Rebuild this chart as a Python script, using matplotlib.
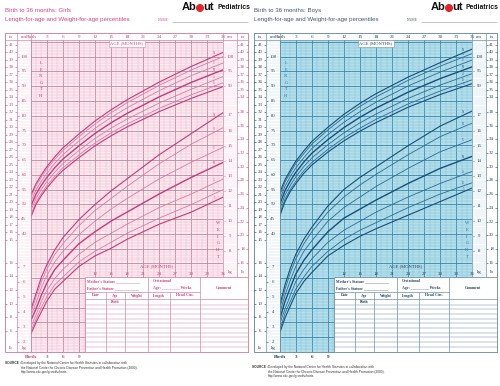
import numpy as np
import matplotlib
matplotlib.use('Agg')
import matplotlib.pyplot as plt
from matplotlib.transforms import blended_transform_factory as blend
from matplotlib.patches import Rectangle, Circle

W, H = 500, 386
SERIF = 'Liberation Serif'
SANS = 'Liberation Sans'

ages = [0, 1, 2, 3, 4.5, 6, 9, 12, 15, 18, 24, 30, 36]
pcts = ['95', '90', '75', '50', '25', '10', '5']

# length-for-age (cm), rows = percentiles 95 ... 5
girls_length = [
    [53.0, 57.0, 60.0, 62.7, 66.1, 69.1, 73.8, 78.2, 82.0, 85.4, 91.4, 96.7, 101.5],
    [52.2, 56.2, 59.3, 61.9, 65.3, 68.2, 72.9, 77.2, 81.0, 84.4, 90.3, 95.5, 100.1],
    [50.8, 54.9, 57.9, 60.5, 63.9, 66.8, 71.4, 75.7, 79.4, 82.7, 88.5, 93.6, 97.9],
    [49.3, 53.5, 56.5, 59.1, 62.4, 65.3, 69.8, 74.0, 77.6, 80.8, 86.4, 91.3, 95.6],
    [47.8, 52.1, 55.1, 57.7, 60.9, 63.8, 68.2, 72.3, 75.8, 78.9, 84.3, 89.0, 93.3],
    [46.4, 50.8, 53.7, 56.3, 59.5, 62.4, 66.7, 70.8, 74.2, 77.2, 82.5, 87.1, 91.2],
    [45.6, 50.0, 53.0, 55.5, 58.7, 61.5, 65.8, 69.8, 73.2, 76.2, 81.4, 85.9, 89.9],
]
boys_length = [
    [53.9, 58.4, 61.6, 64.6, 68.1, 71.3, 76.1, 80.5, 84.2, 87.5, 93.1, 98.0, 102.6],
    [53.0, 57.6, 60.8, 63.8, 67.2, 70.4, 75.2, 79.5, 83.2, 86.4, 92.0, 96.8, 101.1],
    [51.5, 56.2, 59.5, 62.3, 65.8, 68.9, 73.6, 77.8, 81.4, 84.6, 90.1, 94.8, 98.9],
    [49.9, 54.7, 58.0, 60.8, 64.3, 67.3, 71.9, 76.0, 79.5, 82.6, 88.0, 92.6, 96.6],
    [48.3, 53.2, 56.5, 59.3, 62.8, 65.7, 70.2, 74.2, 77.6, 80.6, 85.9, 90.4, 94.3],
    [46.8, 51.8, 55.2, 57.8, 61.4, 64.2, 68.6, 72.5, 75.8, 78.8, 84.0, 88.4, 92.2],
    [46.0, 51.0, 54.4, 57.0, 60.5, 63.3, 67.7, 71.5, 74.8, 77.7, 82.9, 87.2, 90.9],
]
# weight-for-age (kg), rows = percentiles 95 ... 5
girls_weight = [
    [4.1, 5.2, 6.3, 7.1, 8.1, 8.9, 10.1, 11.1, 12.0, 12.8, 14.4, 15.8, 17.2],
    [3.9, 5.0, 6.0, 6.8, 7.8, 8.5, 9.7, 10.7, 11.5, 12.3, 13.8, 15.1, 16.2],
    [3.7, 4.6, 5.6, 6.4, 7.3, 8.0, 9.1, 10.0, 10.8, 11.5, 12.8, 13.9, 14.9],
    [3.4, 4.2, 5.1, 5.9, 6.8, 7.4, 8.5, 9.3, 10.0, 10.6, 11.8, 12.9, 13.9],
    [3.0, 3.8, 4.7, 5.4, 6.2, 6.8, 7.8, 8.6, 9.2, 9.8, 10.9, 11.8, 12.8],
    [2.7, 3.5, 4.3, 5.0, 5.8, 6.3, 7.3, 8.0, 8.6, 9.2, 10.2, 11.1, 12.1],
    [2.5, 3.3, 4.0, 4.7, 5.5, 6.0, 7.0, 7.7, 8.2, 8.8, 9.8, 10.6, 11.6],
]
boys_weight = [
    [4.4, 5.8, 6.9, 7.8, 8.8, 9.6, 11.0, 12.1, 12.9, 13.6, 15.0, 16.3, 17.3],
    [4.2, 5.5, 6.6, 7.5, 8.5, 9.3, 10.6, 11.6, 12.4, 13.1, 14.4, 15.6, 16.5],
    [3.9, 5.1, 6.1, 7.0, 8.0, 8.7, 10.0, 10.9, 11.6, 12.3, 13.5, 14.6, 15.4],
    [3.5, 4.7, 5.6, 6.5, 7.4, 8.1, 9.3, 10.2, 10.8, 11.4, 12.5, 13.5, 14.3],
    [3.2, 4.2, 5.1, 6.0, 6.8, 7.5, 8.6, 9.4, 10.0, 10.6, 11.6, 12.5, 13.3],
    [2.8, 3.9, 4.7, 5.5, 6.3, 7.0, 8.0, 8.8, 9.4, 9.9, 10.9, 11.8, 12.55],
    [2.6, 3.6, 4.4, 5.2, 6.0, 6.6, 7.7, 8.4, 9.0, 9.5, 10.4, 11.3, 12.2],
]

# scale labels
top_ages = ['Birth'] + [str(m) for m in range(3, 37, 3)]
left_inches = list(range(15, 42))
left_lbs = [6, 8, 10, 12, 14, 16]
left_cms = list(range(40, 101, 5))
left_kgs = [2, 3, 4, 5, 6, 7]
right_cms = [90, 95, 100]
right_inches = list(range(34, 42))
right_kgs = list(range(8, 18))
right_lbs = list(range(16, 39, 2))

girls_style = dict(bg='#fcecf2', minor='#f0b6cb', major='#c1869f', dark='#c9387a',
                   light='#dc7aa6', text='#d23c7c', letters='#d23c7c', line='#cf8aa8',
                   title='#d9418a', colgrid='#f4c8d7')
boys_style = dict(bg='#b3deeb', minor='#86c5da', major='#3b86a7', dark='#17507a',
                  light='#2c6c96', text='#27425c', letters='#2a80ae', line='#6f93a8',
                  title='#42596e', colgrid='#b7d6e2')

fig = plt.figure(figsize=(W / 100, H / 100), dpi=100, facecolor='white')


def px_axes(x0, y0, x1, y1, **kw):
    return fig.add_axes([x0 / W, 1 - y1 / H, (x1 - x0) / W, (y1 - y0) / H], **kw)


def cm_at(y):
    return 50 + (207 - y) / 3.0


def kg_at(y):
    return 2 + (342 - y) / 15.1


fg = px_axes(0, 0, W, H, zorder=10)
fg.set_xlim(0, W)
fg.set_ylim(H, 0)
fg.axis('off')


def draw_panel(dx, st, sex, lengths, weights, len_x):
    gx0, gx1 = 30.7 + dx, 223.3 + dx
    L, R = 5 + dx, 248 + dx
    tc = st['text']

    # main grid
    ax = px_axes(gx0, 40, gx1, 352)
    ax.set_facecolor(st['bg'])
    ax.set_xlim(0, 36)
    ax.set_ylim(cm_at(352), cm_at(40))
    ax.set_xticks(np.arange(0, 37, 3))
    ax.set_xticks(np.arange(0, 37, 1), minor=True)
    ax.set_yticks(np.arange(0, 106, 5))
    ax.set_yticks(np.arange(0, 106, 1), minor=True)
    ax.grid(which='minor', color=st['minor'], lw=0.35)
    ax.grid(which='major', color=st['major'], lw=0.6)
    ax.tick_params(which='both', length=0, labelleft=False, labelbottom=False,
                   labeltop=True, pad=1.0, labelsize=3.7, labelcolor=tc)
    ax.set_xticklabels(top_ages, fontfamily=SERIF)
    for s in ax.spines.values():
        s.set_visible(False)

    axw = ax.twinx()
    axw.set_ylim(kg_at(352), kg_at(40))
    axw.set_yticks([])
    for s in axw.spines.values():
        s.set_visible(False)

    for i, p in enumerate(pcts):
        bold = p in ('95', '50', '5')
        col = st['dark'] if bold else st['light']
        lw = 1.0 if p == '50' else (0.8 if bold else 0.6)
        ax.plot(ages, lengths[i], color=col, lw=lw)
        axw.plot(ages, weights[i], color=col, lw=lw)
        ax.text(34.4, np.interp(34.4, ages, lengths[i]) + 0.3, p, fontsize=2.2,
                color=col, ha='center', va='bottom', fontfamily=SERIF)
        axw.text(34.4, np.interp(34.4, ages, weights[i]) + 0.06, p, fontsize=2.2,
                 color=col, ha='center', va='bottom', fontfamily=SERIF)

    # cm / kg side columns
    for cx0, cx1, yb in [(17 + dx, gx0, 352), (gx1, 237 + dx, 277)]:
        c = px_axes(cx0, 40, cx1, yb)
        c.set_facecolor('white')
        c.set_xlim(0, 1)
        c.set_ylim(cm_at(yb), cm_at(40))
        c.set_xticks([])
        c.set_yticks(np.arange(0, 106, 5))
        c.set_yticks(np.arange(0, 106, 1), minor=True)
        c.tick_params(which='both', length=0, labelleft=False)
        c.grid(which='both', axis='y', color=st['colgrid'], lw=0.3)
        for s in c.spines.values():
            s.set_visible(False)

    T_cm = blend(fg.transData, ax.transData)
    T_kg = blend(fg.transData, axw.transData)
    T_age = blend(ax.transData, fg.transData)
    lab = dict(fontsize=3.5, color=tc, ha='center', va='center', fontfamily=SERIF)
    tick = dict(color=tc, lw=0.4)

    # inch / lb column (left) and in / lb column (right)
    for x0c, x1c, ins, lbs in [(L, 17 + dx, left_inches, left_lbs),
                                (237 + dx, R, right_inches, right_lbs)]:
        xc = (x0c + x1c) / 2
        ys = [v * 2.54 for v in ins]
        for v, y in zip(ins, ys):
            fg.text(xc, y, str(v), transform=T_cm, **lab)
        fg.hlines(ys, x0c, x0c + 1.8, transform=T_cm, **tick)
        fg.hlines(ys, x1c - 1.8, x1c, transform=T_cm, **tick)
        ys = [v * 0.45359 for v in lbs]
        for v, y in zip(lbs, ys):
            fg.text(xc, y, str(v), transform=T_kg, **lab)
        fg.hlines(ys, x0c, x0c + 1.8, transform=T_kg, **tick)
        fg.hlines(ys, x1c - 1.8, x1c, transform=T_kg, **tick)

    for xc, cms, kgs in [(23.9 + dx, left_cms, left_kgs), (230.2 + dx, right_cms, right_kgs)]:
        for v in cms:
            fg.text(xc, v, str(v), transform=T_cm, **lab)
        fg.hlines(cms, xc - 6.5, xc - 5, transform=T_cm, **tick)
        for v in kgs:
            fg.text(xc, v, str(v), transform=T_kg, **lab)
        fg.hlines(kgs, xc - 6.5, xc - 5, transform=T_kg, **tick)

    for x, y, s in [(11 + dx, 36.8, 'in'), (23.9 + dx, 36.8, 'cm'), (230.2 + dx, 36.8, 'cm'),
                    (242.5 + dx, 36.8, 'in'), (11 + dx, 348, 'lb'), (23.9 + dx, 348, 'kg'),
                    (230.2 + dx, 271.5, 'kg'), (242.5 + dx, 272, 'lb')]:
        fg.text(x, y, s, **lab)

    # frame
    fc = st['line']
    fg.add_patch(Rectangle((L, 33), R - L, 352 - 33, fill=False, ec=fc, lw=0.7))
    fg.vlines([17 + dx, gx0], 33, 352, color=fc, lw=0.5)
    fg.vlines([gx1, 237 + dx], 33, 277, color=fc, lw=0.5)
    fg.hlines(40, L, R, color=fc, lw=0.5)

    # axis words
    fg.text(127 + dx, 43.5, 'AGE (MONTHS)', fontsize=3.3, color=tc, ha='center', va='center',
            fontfamily=SERIF, bbox=dict(fc='white', ec=fc, lw=0.4, pad=0.8))
    fg.text(157 + dx, 266, 'AGE (MONTHS)', fontsize=3.3, color=tc, ha='center', va='center',
            fontfamily=SERIF)
    for k, ch in enumerate('LENGTH'):
        fg.text(len_x, 63 + k * 6.6, ch, fontsize=3.3, color=st['letters'], ha='center',
                va='center', fontfamily=SERIF)
    for k, ch in enumerate('WEIGHT'):
        fg.text(218 + dx, 223 + k * 6.8, ch, fontsize=3.3, color=st['letters'], ha='center',
                va='center', fontfamily=SERIF)
    for m in range(12, 37, 3):
        fg.text(m, 274, str(m), transform=T_age, **lab)
    for m, s in zip([0, 3, 6, 9], top_ages[:4]):
        fg.text(m, 357.5, s, transform=T_age, fontsize=3.8, color=tc, ha='center',
                va='center', fontfamily=SERIF, fontweight='bold')

    # record table
    tx0 = 85 + dx
    fg.add_patch(Rectangle((tx0, 277), R - tx0, 352 - 277, fc='white', ec=fc, lw=0.6))
    fg.vlines([148 + dx, 200 + dx], 277, 352, color=fc, lw=0.5)
    fg.vlines([106 + dx, 125 + dx, 170 + dx], 292, 352, color=fc, lw=0.5)
    fg.hlines(292, tx0, 200 + dx, color=fc, lw=0.5)
    fg.hlines(299, tx0, R, color=fc, lw=0.5)
    fg.hlines(np.arange(304.5, 351, 4.7), tx0, R, color=fc, lw=0.35)
    tb = dict(fontsize=2.8, color=tc, va='center', fontfamily=SERIF, fontweight='bold')
    fg.text(87 + dx, 281.5, "Mother's Stature ____________", **tb)
    fg.text(87 + dx, 288, "Father's Stature ____________", **tb)
    fg.text(153 + dx, 281.5, 'Gestational', **tb)
    fg.text(153 + dx, 288, 'Age: _________ Weeks', **tb)
    fg.text(224 + dx, 288, 'Comment', ha='center', **tb)
    for x, s in [(95.5, 'Date'), (115.5, 'Age'), (136.5, 'Weight'), (159, 'Length'),
                 (185, 'Head Circ.')]:
        fg.text(x + dx, 295.5, s, ha='center', **tb)
    fg.text(115.5 + dx, 302, 'Birth', ha='center', **tb)

    # header
    fg.text(L, 10.5, 'Birth to 36 months: ' + sex, fontsize=4.4, color=st['title'],
            fontfamily=SANS, va='center')
    fg.text(L, 20, 'Length-for-age and Weight-for-age percentiles', fontsize=4.4,
            color=st['title'], fontfamily=SANS, va='center')
    fg.text(158 + dx, 20, 'NAME', fontsize=2.7, color=st['title'], fontfamily=SERIF,
            va='center')
    fg.hlines(21.5, 172 + dx, R, color='#9a9a9a', lw=0.4)
    fg.text(196.5 + dx, 7, 'Ab', fontsize=8, fontweight='bold', fontfamily=SANS,
            ha='right', va='center', color='#111111')
    fg.add_patch(Circle((200 + dx, 8), 3.3, color='#e0262b'))
    fg.text(203.5 + dx, 7, 'ut', fontsize=8, fontweight='bold', fontfamily=SANS,
            ha='left', va='center', color='#111111')
    fg.text(217 + dx, 7.5, 'Pediatrics', fontsize=4.9, fontweight='bold', fontfamily=SANS,
            ha='left', va='center', color='#111111')


draw_panel(0, girls_style, 'Girls', girls_length, girls_weight, 41)
draw_panel(249, boys_style, 'Boys', boys_length, boys_weight, 286)

src = dict(fontsize=2.3, color='#333333', fontfamily=SANS, va='center')
for x0, y0 in [(5, 363), (252, 367.3)]:
    fg.text(x0, y0, 'SOURCE :', fontweight='bold', **src)
    fg.text(x0 + 16, y0, 'Developed by the National Center for Health Statistics in collaboration with', **src)
    fg.text(x0 + 16, y0 + 4.5, 'the National Center for Chronic Disease Prevention and Health Promotion (2000).', **src)
    fg.text(x0 + 16, y0 + 9, 'http://www.cdc.gov/growthcharts', **src)

fig.savefig('out.png', dpi=100, facecolor='white')
